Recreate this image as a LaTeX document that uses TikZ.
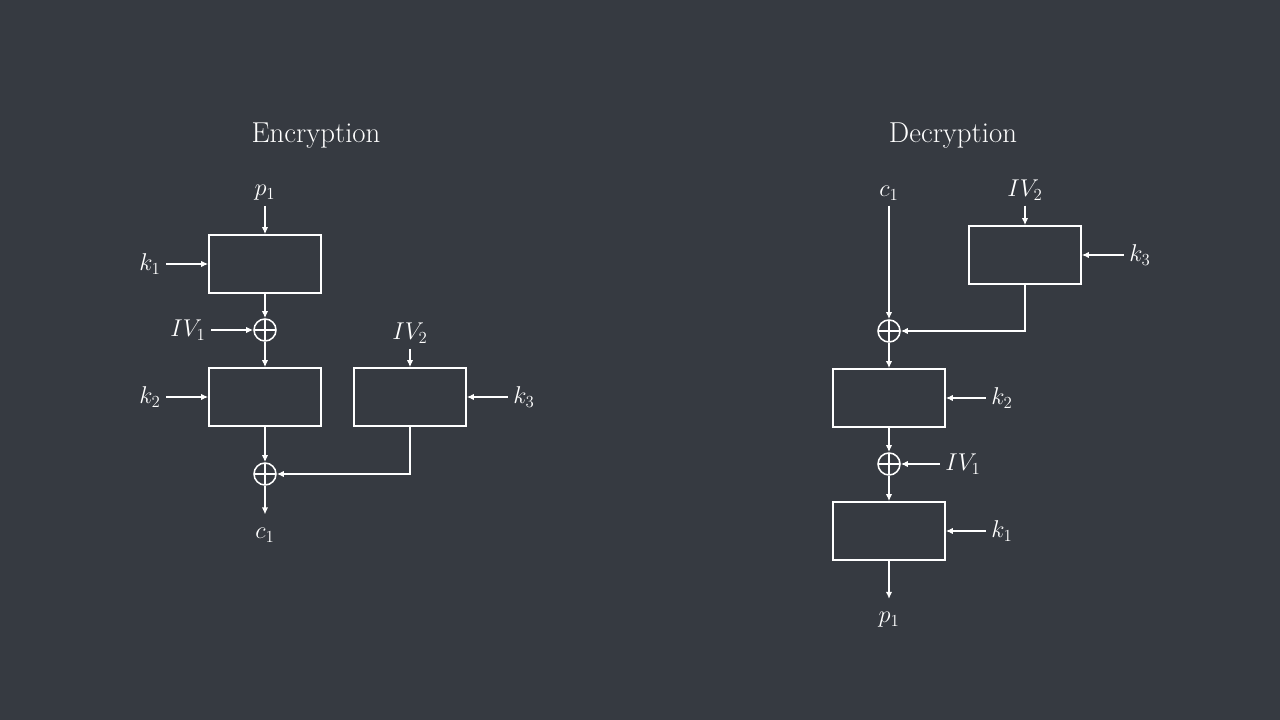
\documentclass[tikz,border=0pt]{standalone}
\usetikzlibrary{arrows.meta}
\definecolor{slate}{RGB}{54,58,65}

\begin{document}
\begin{tikzpicture}[x=0.025cm, y=-0.025cm, line width=1.1pt, white,
  block/.style={draw, minimum width=2.8cm, minimum height=1.45cm},
  xor/.style={draw, circle, minimum size=0.55cm, inner sep=0pt,
    path picture={\draw (path picture bounding box.north) -- (path picture bounding box.south)
      (path picture bounding box.west) -- (path picture bounding box.east);}},
  lbl/.style={font=\fontsize{17}{20}\selectfont},
  ttl/.style={font=\fontsize{20.5}{24}\selectfont},
  flow/.style={-{Latex[length=5pt,width=4.5pt]}}]
\fill[slate] (0,0) rectangle (1280,720);

% encryption
\node[ttl] (enct) at (316,136) {Encryption};
\node[block] (enc1) at (265,264) {};
\node[block] (enc2) at (265,397) {};
\node[block] (enc3) at (410,397) {};
\node[xor] (xe1) at (265,330) {};
\node[xor] (xe2) at (265,474) {};

\node[lbl] (pe) at (265,193) {$p_1$};
\node[lbl] (k1e) at (150,264) {$k_1$};
\node[lbl] (iv1e) at (188,330) {$IV_1$};
\node[lbl] (k2e) at (150,397) {$k_2$};
\node[lbl] (iv2e) at (410,333) {$IV_2$};
\node[lbl] (k3e) at (524,397) {$k_3$};
\node[lbl] (ce) at (265,535) {$c_1$};

\draw[flow] (pe) -- (enc1);
\draw[flow] (k1e) -- (enc1);
\draw[flow] (enc1) -- (xe1);
\draw[flow] (iv1e) -- (xe1);
\draw[flow] (xe1) -- (enc2);
\draw[flow] (k2e) -- (enc2);
\draw[flow] (iv2e) -- (enc3);
\draw[flow] (k3e) -- (enc3);
\draw[flow] (enc2) -- (xe2);
\draw[flow] (enc3) |- (xe2);
\draw[flow, shorten >=0.2cm] (xe2) -- (ce);

% decryption
\node[ttl] (dect) at (953,136) {Decryption};
\node[block] (dec3) at (1025,255) {};
\node[block] (dec2) at (889,398) {};
\node[block] (dec1) at (889,531) {};
\node[xor] (xd2) at (889,331) {};
\node[xor] (xd1) at (889,464) {};

\node[lbl] (cd) at (889,193) {$c_1$};
\node[lbl] (iv2d) at (1025,190) {$IV_2$};
\node[lbl] (k3d) at (1140,255) {$k_3$};
\node[lbl] (k2d) at (1002,398) {$k_2$};
\node[lbl] (iv1d) at (963,464) {$IV_1$};
\node[lbl] (k1d) at (1002,531) {$k_1$};
\node[lbl] (pd) at (889,620) {$p_1$};

\draw[flow] (cd) -- (xd2);
\draw[flow] (iv2d) -- (dec3);
\draw[flow] (k3d) -- (dec3);
\draw[flow] (dec3) |- (xd2);
\draw[flow] (xd2) -- (dec2);
\draw[flow] (k2d) -- (dec2);
\draw[flow] (dec2) -- (xd1);
\draw[flow] (iv1d) -- (xd1);
\draw[flow] (xd1) -- (dec1);
\draw[flow] (k1d) -- (dec1);
\draw[flow, shorten >=0.2cm] (dec1) -- (pd);
\end{tikzpicture}
\end{document}
